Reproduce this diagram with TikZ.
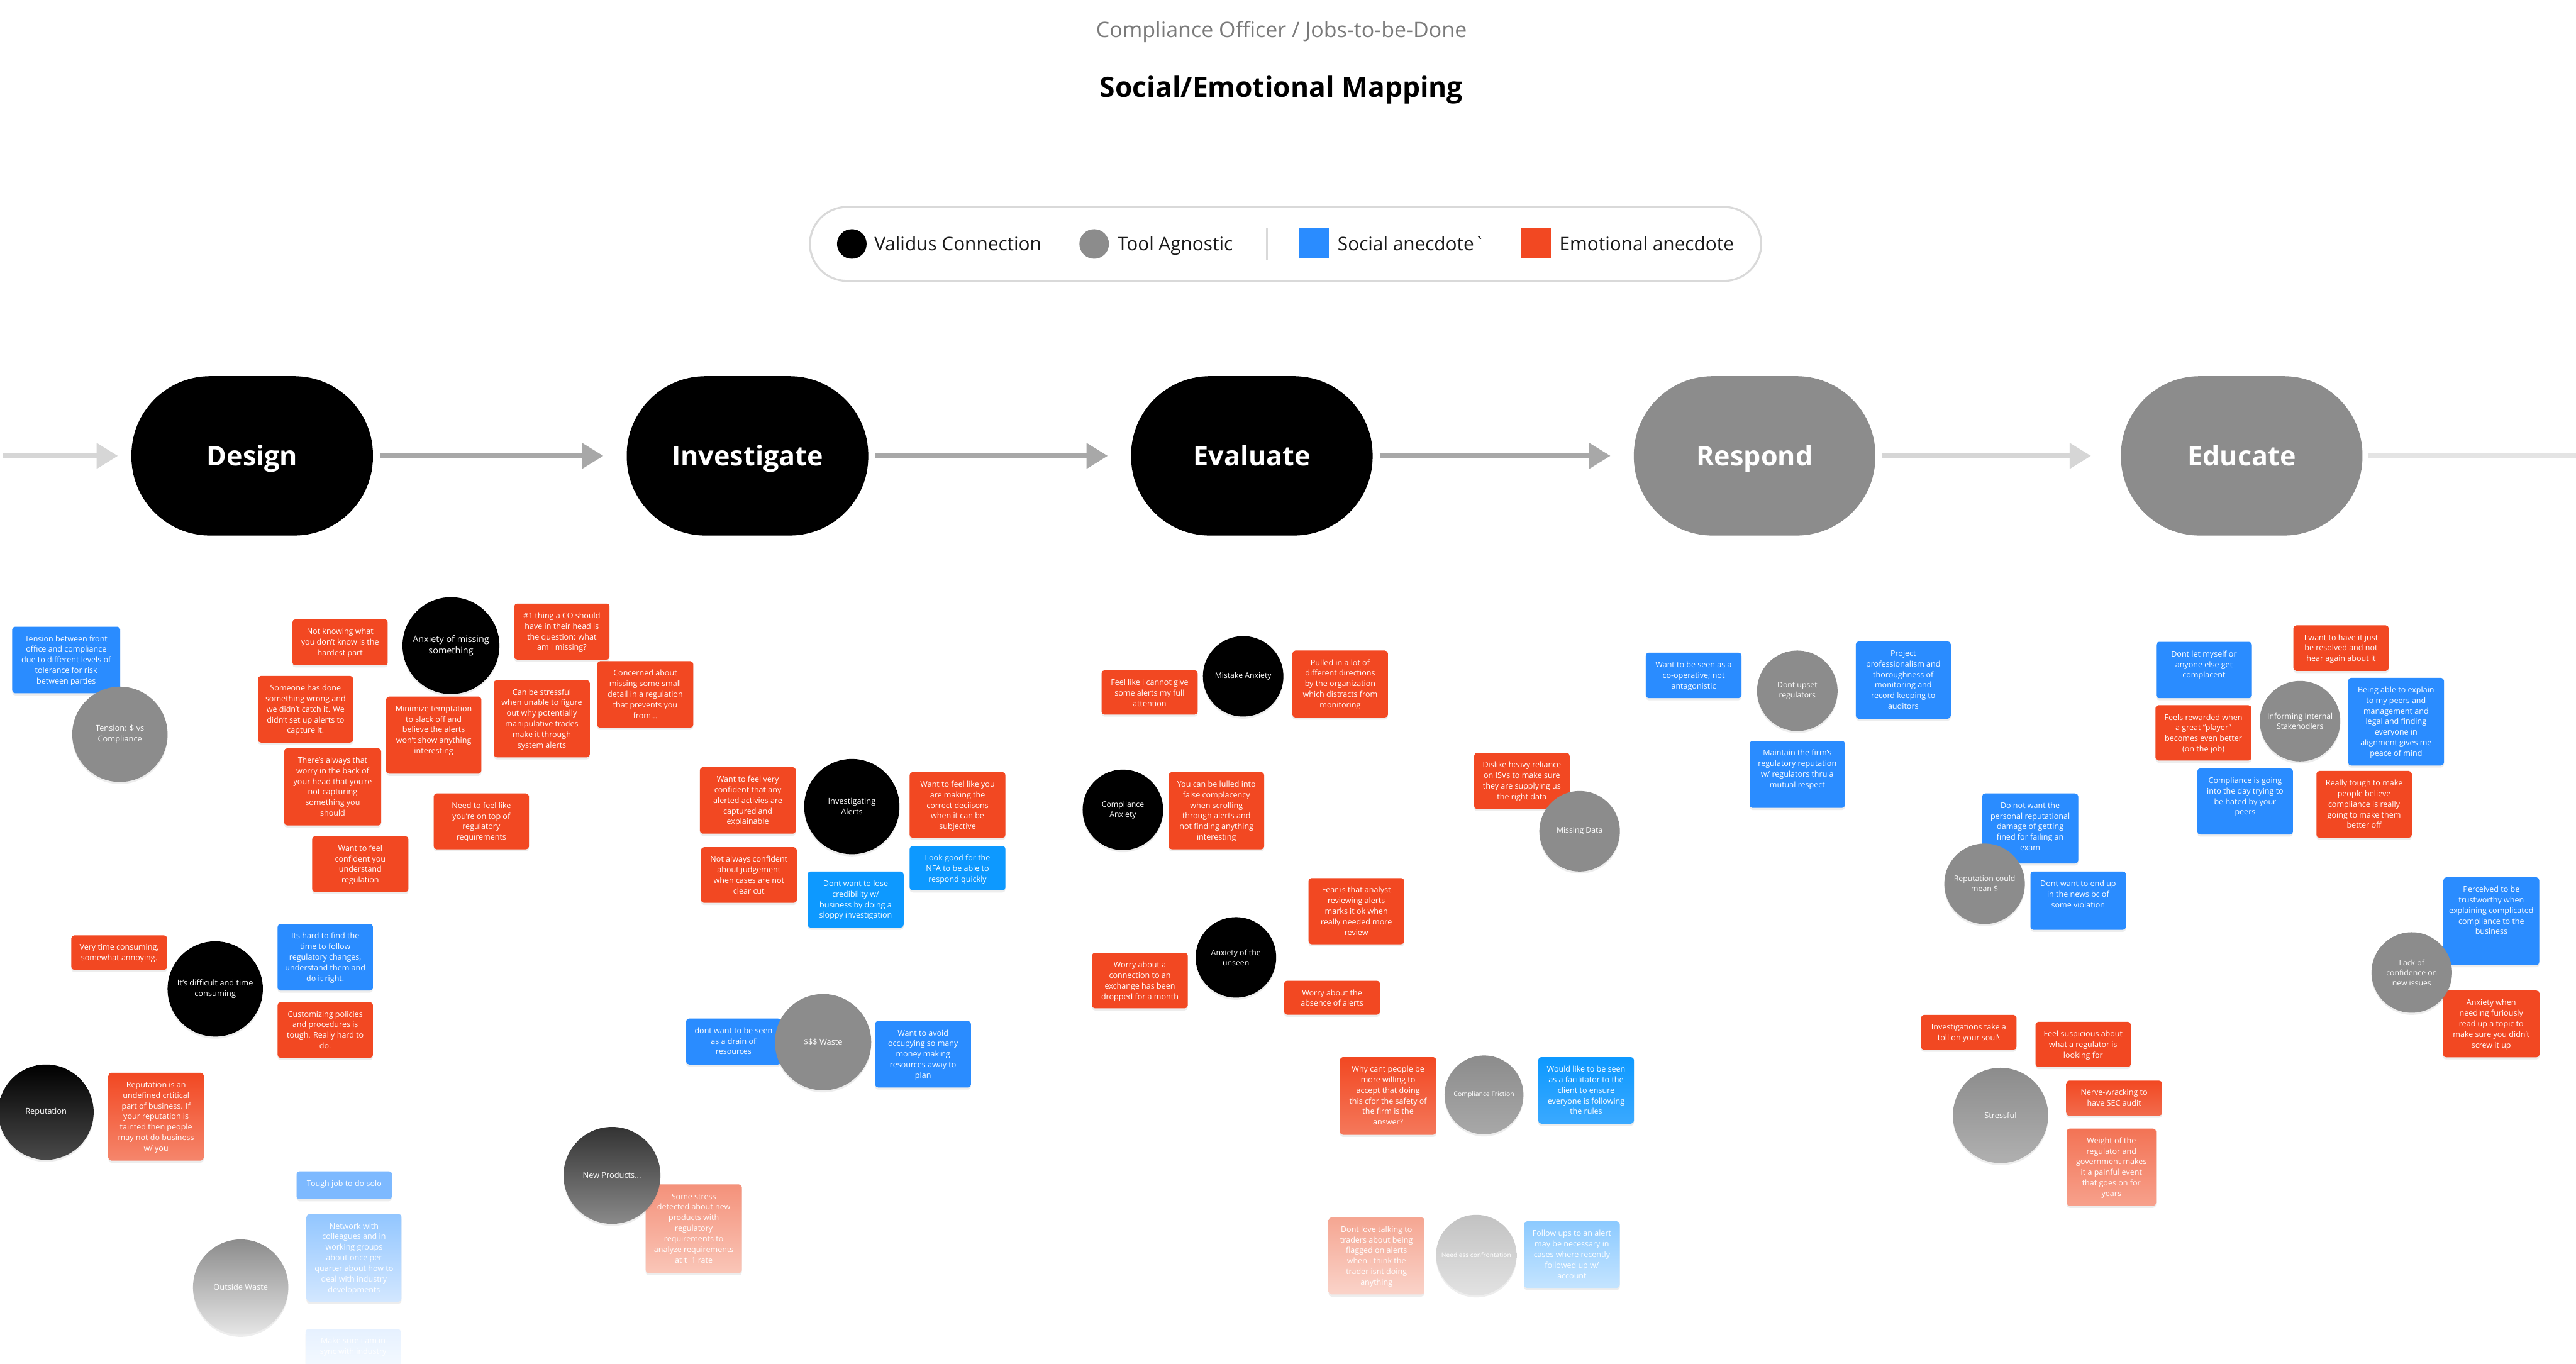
\documentclass[tikz,border=0pt]{standalone}
\usepackage{fontspec}
\setmainfont{Open Sans}
\usetikzlibrary{shadows,arrows.meta}
\definecolor{orng}{HTML}{F24822}
\definecolor{blu}{HTML}{2A8CFF}
\definecolor{cya}{HTML}{0D99FF}
\definecolor{gry}{HTML}{8C8C8C}
\definecolor{hdrgray}{HTML}{7A7A7A}
\definecolor{arr}{HTML}{A8A8A8}
\definecolor{arrlt}{HTML}{D6D6D6}
\definecolor{arrlt2}{HTML}{E4E4E4}
\definecolor{legline}{HTML}{D9D9D9}
\definecolor{orngfade}{HTML}{F5866C}
\definecolor{repbot}{HTML}{4A4A4A}
\definecolor{bluLt}{HTML}{7DB9FF}
\definecolor{nwTop}{HTML}{92C6FF}\definecolor{nwBot}{HTML}{D3E7FF}
\definecolor{owBot}{HTML}{E6E6E6}
\definecolor{msTop}{HTML}{E6F1FF}\definecolor{msBot}{HTML}{F9FCFF}
\definecolor{npTop}{HTML}{333333}\definecolor{npBot}{HTML}{8A8A8A}
\definecolor{ssTop}{HTML}{F4917A}\definecolor{ssBot}{HTML}{FAC6B8}
\definecolor{wcBot}{HTML}{F4785B}
\definecolor{wlBot}{HTML}{3AA9FF}
\definecolor{dlTop}{HTML}{F5A692}\definecolor{dlBot}{HTML}{FAD3C9}
\definecolor{ncTop}{HTML}{C2C2C2}\definecolor{ncBot}{HTML}{E2E2E2}
\definecolor{fuTop}{HTML}{8CCAFF}\definecolor{fuBot}{HTML}{C4E4FF}
\definecolor{cfBot}{HTML}{A8A8A8}
\definecolor{stBot}{HTML}{B0B0B0}
\definecolor{nvBot}{HTML}{F26C4D}
\definecolor{wtTop}{HTML}{F37355}\definecolor{wtBot}{HTML}{F7A18C}

\newcommand\stkfont{\fontsize{4.8}{6.45}\selectfont}
\newcommand\bigb{\fontsize{4.9}{6.5}\selectfont}
\newcommand\smb{\fontsize{4.7}{6.1}\selectfont}
\newcommand\sticky[7]{\node[stickybox,#6] (#1) at ({(#2+#4)/2},{(#3+#5)/2}) {\parbox[c][\dimexpr#5pt-#3pt\relax][t]{\dimexpr#4pt-#2pt\relax}{\stkfont\centering\vspace*{4.5pt}\strut#7\par}};}
\newcommand\bubble[6]{\node[bubblenode,minimum size=#4pt,#5] (#1) at (#2,#3) {#6};}

\tikzset{
 stickybox/.style={rectangle, rounded corners=1.8pt, inner sep=0pt, outer sep=0pt, text=white,
   drop shadow={shadow xshift=0pt, shadow yshift=-1.3pt, opacity=0.14}},
 bubblenode/.style={circle, inner sep=0pt, text=white, align=center,
   drop shadow={shadow xshift=0pt, shadow yshift=-1.3pt, opacity=0.14}},
 stage/.style={rectangle, rounded corners=48pt, minimum width=147pt, minimum height=97pt,
   text=white, font=\fontsize{16.5}{20}\selectfont\bfseries, inner sep=0pt, text height=11.8pt, text depth=0pt},
 flow/.style={line width=3pt, draw=arr, -{Triangle[length=13pt,width=15pt]}, shorten <=4pt, shorten >=14pt},
 legtext/.style={anchor=west, inner sep=0pt, font=\fontsize{11.4}{13}\selectfont, text=black!90, text height=8.2pt, text depth=0pt},
 legdot/.style={circle, inner sep=0pt, minimum size=18pt},
 legsq/.style={rectangle, inner sep=0pt, minimum size=18pt},
}

\begin{document}
\begin{tikzpicture}[x=1pt,y=-1pt]
\useasboundingbox (0,0) rectangle (1568,830);
\fill[white] (0,0) rectangle (1568,830);

% header
\node[font=\fontsize{13}{15}\selectfont, text=hdrgray, text height=9.3pt, text depth=0pt, inner sep=0pt] (hdr) at (780,18) {Compliance Officer / Jobs-to-be-Done};
\node[font=\fontsize{17}{20}\selectfont\bfseries, text=black, text height=12.2pt, text depth=0pt, inner sep=0pt] (title) at (780,53) {Social/Emotional Mapping};

% legend
\node[draw=legline, line width=1.2pt, rounded corners=22.5pt, minimum width=579pt, minimum height=45pt, inner sep=0pt] (legend) at (782.5,148.5) {};
\node[legdot, fill=black] (lgA) at (518.5,148.5) {};
\node[legtext] (lgAt) at (532,148.5) {Validus Connection};
\node[legdot, fill=gry] (lgB) at (666,148.5) {};
\node[legtext] (lgBt) at (680,148.5) {Tool Agnostic};
\coordinate (sepT) at (771,139);
\coordinate (sepB) at (771,158);
\draw[draw=legline, line width=1.2pt] (sepT) -- (sepB);
\node[legsq, fill=blu] (lgC) at (800,148) {};
\node[legtext] (lgCt) at (814,148.5) {Social anecdote\textasciigrave};
\node[legsq, fill=orng] (lgD) at (935,148) {};
\node[legtext] (lgDt) at (949,148.5) {Emotional anecdote};

% stages
\node[stage, fill=black] (design) at (153.5,277.5) {Design};
\node[stage, fill=black] (investigate) at (455,277.5) {Investigate};
\node[stage, fill=black] (evaluate) at (762,277.5) {Evaluate};
\node[stage, fill=gry] (respond) at (1068,277.5) {Respond};
\node[stage, fill=gry] (educate) at (1364.5,277.5) {Educate};
\coordinate (inL) at (2,277.5);
\coordinate (outR) at (1568,277.5);
\draw[flow, draw=arrlt, shorten <=0pt, shorten >=8pt] (inL) -- (design);
\draw[flow] (design) -- (investigate);
\draw[flow] (investigate) -- (evaluate);
\draw[flow] (evaluate) -- (respond);
\draw[flow, draw=arrlt, shorten >=18pt] (respond) -- (educate);
\draw[line width=3pt, draw=arrlt2, shorten <=3pt] (educate) -- (outR);

% ---------- Design ----------
\sticky{b1}{7.4}{381.5}{73.2}{422}{fill=blu}{Tension between front\\office and compliance\\due to different levels of\\tolerance for risk\\between parties}
\sticky{o1}{178}{377}{236}{405}{fill=orng}{Not knowing what\\you don't know is the\\hardest part}
\sticky{o2}{157}{411.5}{215}{452}{fill=orng}{Someone has done\\something wrong and\\we didn't catch it. We\\didn't set up alerts to\\capture it.}
\sticky{o3}{173}{455.5}{232}{502.5}{fill=orng}{There's always that\\worry in the back of\\your head that you're\\not capturing\\something you\\should}
\sticky{o4}{190}{509}{248.6}{543}{fill=orng}{Want to feel\\confident you\\understand\\regulation}
\sticky{o5}{313}{367.4}{371}{401.5}{fill=orng}{\#1 thing a CO should\\have in their head is\\the question: what\\am I missing?}
\sticky{o6}{363.5}{402.5}{422}{443}{fill=orng}{Concerned about\\missing some small\\detail in a regulation\\that prevents you\\from...}
\sticky{o7}{235}{424}{293}{471}{fill=orng}{Minimize temptation\\to slack off and\\believe the alerts\\won't show anything\\interesting}
\sticky{o8}{300.6}{414}{359}{461}{fill=orng}{Can be stressful\\when unable to figure\\out why potentially\\manipulative trades\\make it through\\system alerts}
\sticky{o9}{264}{483}{322}{517}{fill=orng}{Need to feel like\\you're on top of\\regulatory\\requirements}
\sticky{o10}{43.4}{569.4}{101.7}{590.4}{fill=orng}{Very time consuming,\\somewhat annoying.}
\sticky{b2}{169}{562.4}{227}{603}{fill=blu}{Its hard to find the\\time to follow\\regulatory changes,\\understand them and\\do it right.}
\sticky{o11}{169}{610}{227}{644}{fill=orng}{Customizing policies\\and procedures is\\tough. Really hard to\\do.}
\sticky{o12}{66}{653}{124}{706.5}{top color=orng,bottom color=orngfade}{Reputation is an\\undefined crtitical\\part of business. If\\your reputation is\\tainted then people\\may not do business\\w/ you}
\sticky{b3}{180.5}{713}{238.6}{730}{fill=bluLt}{Tough job to do solo}
\sticky{b4}{186.6}{739}{244.4}{792.4}{top color=nwTop,bottom color=nwBot}{Network with\\colleagues and in\\working groups\\about once per\\quarter about how to\\deal with industry\\developments}
\sticky{b5}{186}{809}{244}{840}{top color=msTop,bottom color=msBot}{Make sure i am in\\sync with industry}
\sticky{o13}{393}{721}{451.6}{775}{top color=ssTop,bottom color=ssBot}{Some stress\\detected about new\\products with\\regulatory\\requirements to\\analyze requirements\\at t+1 rate}
\bubble{c1}{73}{447}{58}{fill=gry,font=\bigb}{Tension: \$ vs\\Compliance}
\bubble{c2}{274.5}{393}{59}{fill=black,font=\fontsize{5.5}{6.6}\selectfont}{Anxiety of missing\\something}
\bubble{c3}{131}{602}{58}{fill=black,font=\bigb}{It's difficult and time\\consuming}
\bubble{c4}{28}{677}{58}{top color=black,bottom color=repbot,font=\bigb}{Reputation}
\bubble{c5}{146.5}{783.5}{58}{top color=gry,bottom color=owBot,font=\bigb}{Outside Waste}
\bubble{c6}{372.5}{715.5}{59}{top color=npTop,bottom color=npBot,font=\bigb}{New Products...}

% ---------- Investigate ----------
\sticky{o14}{426}{467}{484.4}{507.5}{fill=orng}{Want to feel very\\confident that any\\alerted activies are\\captured and\\explainable}
\sticky{o15}{553.7}{470}{612}{510}{fill=orng}{Want to feel like you\\are making the\\correct deciisons\\when it can be\\subjective}
\sticky{o16}{426.7}{515.7}{485}{549.6}{fill=orng}{Not always confident\\about judgement\\when cases are not\\clear cut}
\sticky{b6}{553.7}{515}{612}{542}{fill=cya}{Look good for the\\NFA to be able to\\respond quickly}
\sticky{b7}{491.6}{530.5}{550}{564.7}{fill=cya}{Dont want to lose\\credibility w/\\business by doing a\\sloppy investigation}
\sticky{b8}{417.6}{620}{475.4}{648}{fill=blu}{dont want to be seen\\as a drain of\\resources}
\sticky{b9}{532.7}{621.5}{591}{662}{fill=blu}{Want to avoid\\occupying so many\\money making\\resources away to\\plan}
\bubble{c7}{518.5}{491}{58}{fill=black,font=\bigb}{Investigating\\Alerts}
\bubble{c8}{501}{634.4}{58.6}{fill=gry,font=\bigb}{\$\$\$ Waste}

% ---------- Evaluate ----------
\sticky{o17}{670.5}{408}{729}{435}{fill=orng}{Feel like i cannot give\\some alerts my full\\attention}
\sticky{o18}{786.7}{396}{844.8}{436.8}{fill=orng}{Pulled in a lot of\\different directions\\by the organization\\which distracts from\\monitoring}
\sticky{o19}{711.4}{470}{769.5}{517}{fill=orng}{You can be lulled into\\false complacency\\when scrolling\\through alerts and\\not finding anything\\interesting}
\sticky{o20}{796.5}{534.5}{854.7}{574.8}{fill=orng}{Fear is that analyst\\reviewing alerts\\marks it ok when\\really needed more\\review}
\sticky{o21}{664.7}{580}{723}{613.8}{fill=orng}{Worry about a\\connection to an\\exchange has been\\dropped for a month}
\sticky{o22}{781.6}{597}{840}{617.7}{fill=orng}{Worry about the\\absence of alerts}
\sticky{o23}{815.6}{643.5}{874.2}{690.8}{top color=orng,bottom color=wcBot}{Why cant people be\\more willing to\\accept that doing\\this cfor the safety of\\the firm is the\\answer?}
\sticky{b10}{936.3}{643.5}{994.6}{684}{top color=cya,bottom color=wlBot}{Would like to be seen\\as a facilitator to the\\client to ensure\\everyone is following\\the rules}
\sticky{o24}{808.7}{741}{867}{788}{top color=dlTop,bottom color=dlBot}{Dont love talking to\\traders about being\\flagged on alerts\\when i think the\\trader isnt doing\\anything}
\sticky{b11}{927.6}{743.5}{986}{784}{top color=fuTop,bottom color=fuBot}{Follow ups to an alert\\may be necessary in\\cases where recently\\followed up w/\\account}
\bubble{c9}{756.7}{411.7}{49}{fill=black,font=\smb}{Mistake Anxiety}
\bubble{c10}{683.5}{493}{49}{fill=black,font=\smb}{Compliance\\Anxiety}
\bubble{c11}{752.3}{582.8}{49}{fill=black,font=\smb}{Anxiety of the\\unseen}
\bubble{c12}{903.3}{666.5}{48}{top color=gry,bottom color=cfBot,font=\fontsize{4}{5}\selectfont}{Compliance Friction}
\bubble{c13}{898.6}{764}{49}{top color=ncTop,bottom color=ncBot,font=\fontsize{3.9}{5}\selectfont}{Needless confrontation}

% ---------- Respond ----------
\sticky{o25}{897.3}{458.3}{955.4}{492.5}{fill=orng}{Dislike heavy reliance\\on ISVs to make sure\\they are supplying us\\the right data}
\sticky{b12}{1001.8}{397.3}{1060}{425}{fill=blu}{Want to be seen as a\\co-operative; not\\antagonistic}
\sticky{b13}{1129.6}{390.4}{1187.4}{437.5}{fill=blu}{Project\\professionalism and\\thoroughness of\\monitoring and\\record keeping to\\auditors}
\sticky{b14}{1065}{451}{1123}{491.8}{fill=blu}{Maintain the firm's\\regulatory reputation\\w/ regulators thru a\\mutual respect}
\sticky{b15}{1206.5}{483}{1265}{525.6}{fill=blu}{Do not want the\\personal reputational\\damage of getting\\fined for failing an\\exam}
\sticky{b16}{1235.9}{530.5}{1294}{566}{fill=blu}{Dont want to end up\\in the news bc of\\some violation}
\sticky{o26}{1169.3}{617.8}{1227.4}{639}{fill=orng}{Investigations take a\\toll on your soul\textbackslash}
\sticky{o27}{1239}{622}{1297}{649.5}{fill=orng}{Feel suspicious about\\what a regulator is\\looking for}
\sticky{o28}{1257.7}{657.8}{1316}{679.2}{top color=orng,bottom color=nvBot}{Nerve-wracking to\\have SEC audit}
\sticky{o29}{1258}{687}{1312.4}{734}{top color=wtTop,bottom color=wtBot}{Weight of the\\regulator and\\government makes\\it a painful event\\that goes on for\\years}
\bubble{c14}{961.5}{506}{49}{fill=gry,font=\smb}{Missing Data}
\bubble{c15}{1094}{420.5}{49}{fill=gry,font=\smb}{Dont upset\\regulators}
\bubble{c16}{1208}{538}{49}{fill=gry,font=\smb}{Reputation could\\mean \$}
\bubble{c17}{1217.7}{679}{58}{top color=gry,bottom color=stBot,font=\bigb}{Stressful}

% ---------- Educate ----------
\sticky{b17}{1312.4}{390.7}{1370.7}{425}{fill=blu}{Dont let myself or\\anyone else get\\complacent}
\sticky{o30}{1396}{380.7}{1454}{408.4}{fill=orng}{I want to have it just\\be resolved and not\\hear again about it}
\sticky{o31}{1312}{429.3}{1370.4}{463}{fill=orng}{Feels rewarded when\\a great ``player''\\becomes even better\\(on the job)}
\sticky{b18}{1429.3}{412.6}{1487.6}{466}{fill=blu}{Being able to explain\\to my peers and\\management and\\legal and finding\\everyone in\\alignment gives me\\peace of mind}
\sticky{b19}{1337.5}{467.7}{1395.7}{508}{fill=blu}{Compliance is going\\into the day trying to\\be hated by your\\peers}
\sticky{o32}{1410}{469.3}{1468}{510}{fill=orng}{Really tough to make\\people believe\\compliance is really\\going to make them\\better off}
\sticky{b20}{1487.3}{534}{1545.6}{587.5}{fill=blu}{Perceived to be\\trustworthy when\\explaining complicated\\compliance to the\\business}
\sticky{o33}{1487}{603}{1545.8}{643.6}{fill=orng}{Anxiety when\\needing furiously\\read up a topic to\\make sure you didn't\\screw it up}
\bubble{c18}{1400}{439}{49}{fill=gry,font=\smb}{Informing Internal\\Stakehodlers}
\bubble{c19}{1468}{592}{49}{fill=gry,font=\smb}{Lack of\\confidence on\\new issues}
\end{tikzpicture}
\end{document}
